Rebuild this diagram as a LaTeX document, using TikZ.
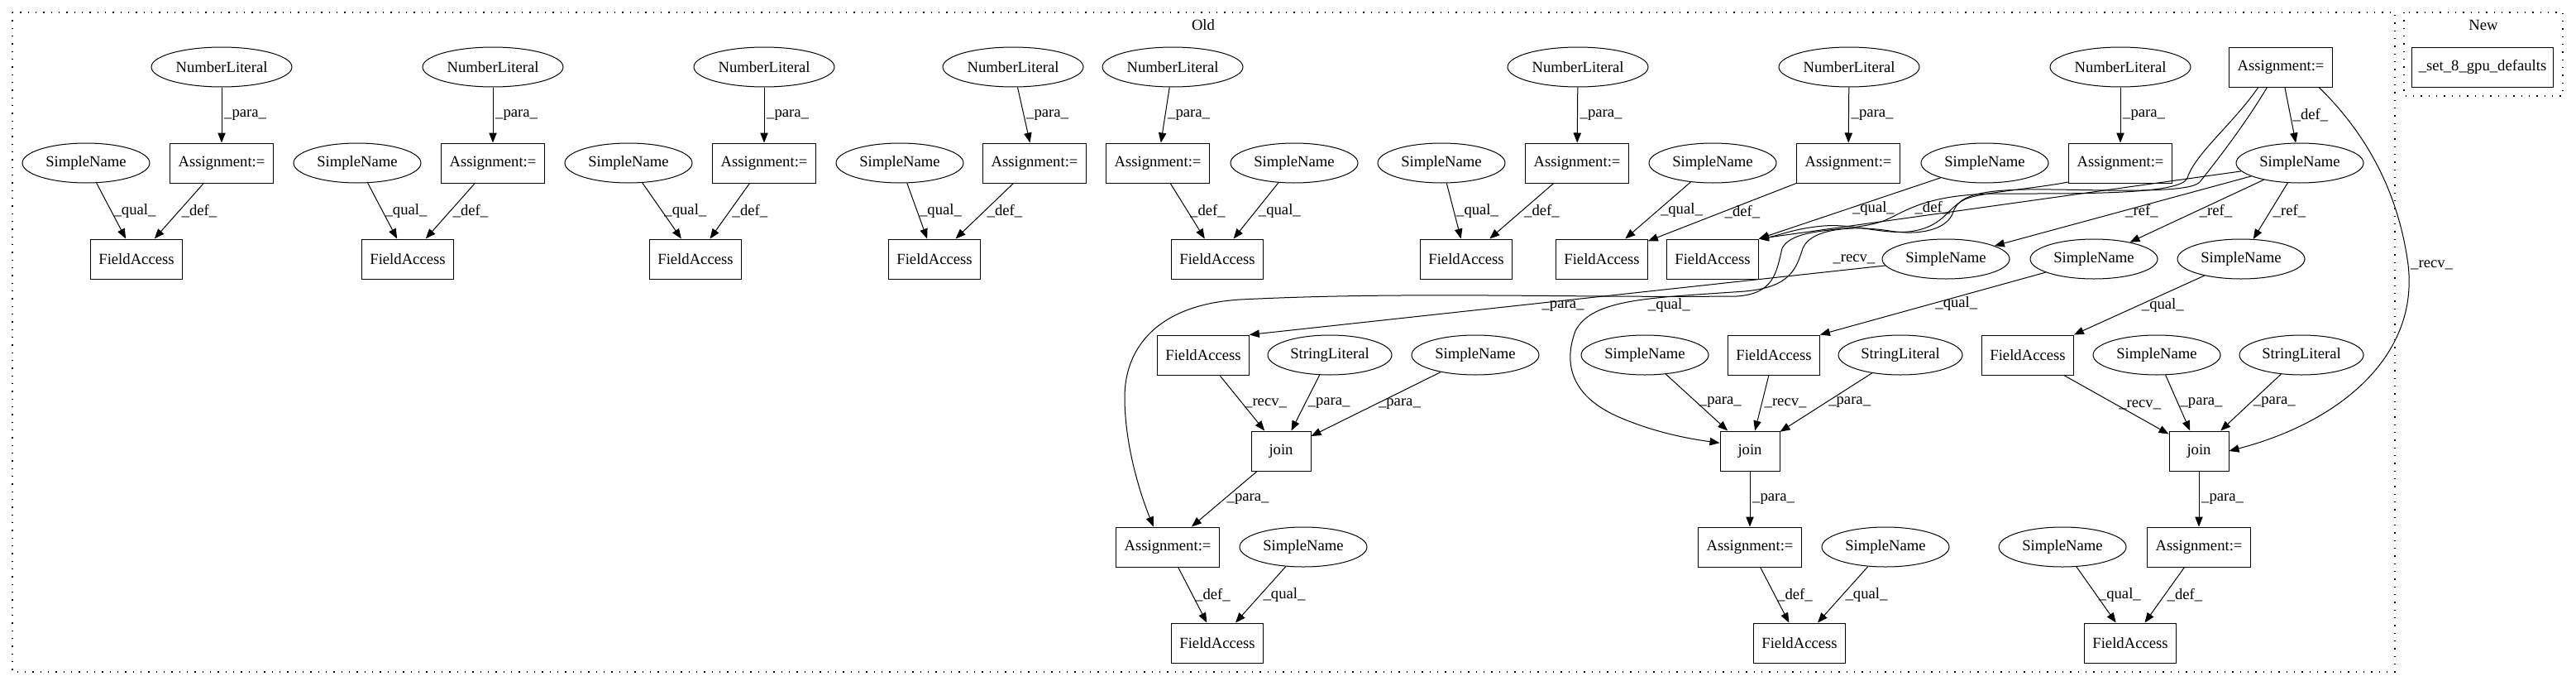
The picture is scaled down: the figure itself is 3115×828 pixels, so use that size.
\documentclass[tikz,border=0pt]{standalone}
\usepackage{fontspec}
\setmainfont{Liberation Serif}
\usetikzlibrary{shapes.geometric,arrows.meta}

\begin{document}
\begin{tikzpicture}[x=0.75pt,y=-0.75pt,>={Triangle[length=9pt,width=7pt]},line width=0.75pt,
	font=\fontsize{14}{16}\selectfont,
	oval/.style={draw,ellipse,inner sep=0pt,minimum height=36pt},
	numlit/.style={oval,minimum width=127.5pt},
	simple/.style={oval,minimum width=115.5pt},
	strlit/.style={oval,minimum width=112.5pt},
	box/.style={draw,rectangle,inner sep=0pt,minimum height=36pt},
	assign/.style={box,minimum width=94pt},
	field/.style={box,minimum width=83pt},
	joinbox/.style={box,minimum width=54pt},
	lbl/.style={right,inner sep=2pt},
	cluster/.style={line width=1pt,dash pattern=on 1pt off 6pt}]
				\useasboundingbox (0,0) rectangle (3115,828);
				%Khung Old, New
				\draw[cluster] (15,15) rectangle (2896,812);
				\node (old) at (1455,30) {Old};
				\draw[cluster] (2907,15) rectangle (3099,116);
				\node (new) at (3003,30) {New};
				\node[box,minimum width=128pt] (gpu) at (3002,81) {\_set\_8\_gpu\_defaults};
				%Nhom 1
				\node[numlit] (nl1) at (268,81) {NumberLiteral};
				\node[assign] (as1) at (268,197) {Assignment:=};
				\node[simple] (sn1) at (104,197) {SimpleName};
				\node[field] (fa1) at (165,313) {FieldAccess};
				\draw[->] (nl1) -- (as1) node[lbl,midway]{\_para\_};
				\draw[->] (sn1) -- (fa1) node[lbl,midway]{\_qual\_};
				\draw[->] (as1) -- (fa1) node[lbl,midway]{\_def\_};
				%Nhom 2
				\node[numlit] (nl2) at (596,81) {NumberLiteral};
				\node[assign] (as2) at (596,197) {Assignment:=};
				\node[simple] (sn2) at (432,197) {SimpleName};
				\node[field] (fa2) at (493,313) {FieldAccess};
				\draw[->] (nl2) -- (as2) node[lbl,midway]{\_para\_};
				\draw[->] (sn2) -- (fa2) node[lbl,midway]{\_qual\_};
				\draw[->] (as2) -- (fa2) node[lbl,midway]{\_def\_};
				%Nhom 3
				\node[numlit] (nl3) at (924,81) {NumberLiteral};
				\node[assign] (as3) at (924,197) {Assignment:=};
				\node[simple] (sn3) at (760,197) {SimpleName};
				\node[field] (fa3) at (841,313) {FieldAccess};
				\draw[->] (nl3) -- (as3) node[lbl,midway]{\_para\_};
				\draw[->] (sn3) -- (fa3) node[lbl,midway]{\_qual\_};
				\draw[->] (as3) -- (fa3) node[lbl,midway]{\_def\_};
				%Nhom 4
				\node[numlit] (nl4) at (1225,81) {NumberLiteral};
				\node[assign] (as4) at (1251,197) {Assignment:=};
				\node[simple] (sn4) at (1088,197) {SimpleName};
				\node[field] (fa4) at (1130,313) {FieldAccess};
				\draw[->] (nl4) -- (as4) node[lbl,midway]{\_para\_};
				\draw[->] (sn4) -- (fa4) node[lbl,midway]{\_qual\_};
				\draw[->] (as4) -- (fa4) node[lbl,midway]{\_def\_};
				%Nhom 5
				\node[numlit] (nl5) at (1418,81) {NumberLiteral};
				\node[assign] (as5) at (1400,197) {Assignment:=};
				\node[simple] (sn5) at (1565,197) {SimpleName};
				\node[field] (fa5) at (1472,313) {FieldAccess};
				\draw[->] (nl5) -- (as5) node[lbl,midway]{\_para\_};
				\draw[->] (as5) -- (fa5) node[lbl,midway]{\_def\_};
				\draw[->] (sn5) -- (fa5) node[lbl,midway]{\_qual\_};
				%Nhom 6
				\node[numlit] (nl6) at (1908,81) {NumberLiteral};
				\node[assign] (as6) at (1907,197) {Assignment:=};
				\node[simple] (sn6) at (1743,197) {SimpleName};
				\node[field] (fa6) at (1773,313) {FieldAccess};
				\draw[->] (nl6) -- (as6) node[lbl,midway]{\_para\_};
				\draw[->] (sn6) -- (fa6) node[lbl,midway]{\_qual\_};
				\draw[->] (as6) -- (fa6) node[lbl,midway]{\_def\_};
				%Nhom 7
				\node[numlit] (nl7) at (2236,81) {NumberLiteral};
				\node[assign] (as7) at (2235,197) {Assignment:=};
				\node[simple] (sn7) at (2071,197) {SimpleName};
				\node[field] (fa7) at (1937,313) {FieldAccess};
				\draw[->] (nl7) -- (as7) node[lbl,midway]{\_para\_};
				\draw[->] (sn7) -- (fa7) node[lbl,midway]{\_qual\_};
				\draw[->] (as7) -- (fa7) node[lbl,midway]{\_def\_};
				%Nhom 8
				\node[numlit] (nl8) at (2564,81) {NumberLiteral};
				\node[assign] (as8) at (2564,197) {Assignment:=};
				\node[simple] (sn8) at (2400,197) {SimpleName};
				\node[field] (fa8) at (2071,313) {FieldAccess};
				\draw[->] (nl8) -- (as8) node[lbl,midway]{\_para\_};
				\draw[->] (sn8) -- (fa8.north east) node[lbl,midway]{\_qual\_};
				%Assignment tren cung
				\node[assign] (astop) at (2758,81) {Assignment:=};
				\node[simple] (snbig) at (2781,197) {SimpleName};
				\node[simple] (snr1) at (2353,313) {SimpleName};
				\node[simple] (snr2) at (2532,313) {SimpleName};
				\node[simple] (snr3) at (2710,313) {SimpleName};
				\draw[->] (astop) -- (snbig) node[lbl,midway]{\_def\_};
				\draw[->] (snbig) -- (snr1) node[lbl,midway]{\_ref\_};
				\draw[->] (snbig) -- (snr2) node[lbl,midway]{\_ref\_};
				\draw[->] (snbig) -- (snr3) node[lbl,midway]{\_ref\_};
				\draw[->] (snbig) -- (fa8.north east);
				%Hang 4
				\node[field] (faj1) at (1455,429) {FieldAccess};
				\node[strlit] (sl1) at (1608,429) {StringLiteral};
				\node[simple] (snj1) at (1784,429) {SimpleName};
				\node[simple] (snj2) at (1989,429) {SimpleName};
				\node[field] (faj2) at (2145,429) {FieldAccess};
				\node[strlit] (sl2) at (2298,429) {StringLiteral};
				\node[field] (faj3) at (2452,429) {FieldAccess};
				\node[simple] (snj3) at (2608,429) {SimpleName};
				\node[strlit] (sl3) at (2783,429) {StringLiteral};
				\draw[->] (snr1) -- (faj1.north east) node[lbl,pos=0.34,below=6pt]{\_qual\_};
				\draw[->] (snr2) -- (faj2.north east) node[lbl,midway]{\_qual\_};
				\draw[->] (snr3) -- (faj3.north east) node[lbl,midway]{\_qual\_};
				%join
				\node[joinbox] (join1) at (1549,545) {join};
				\node[joinbox] (join2) at (2116,545) {join};
				\node[joinbox] (join3) at (2659,545) {join};
				\draw[->] (faj1) -- (join1) node[lbl,midway]{\_recv\_};
				\draw[->] (sl1) -- (join1) node[lbl,midway]{\_para\_};
				\draw[->] (snj1) -- (join1) node[lbl,midway]{\_para\_};
				\draw[->] (snj2) -- (join2) node[lbl,midway]{\_para\_};
				\draw[->] (faj2) -- (join2) node[lbl,midway]{\_recv\_};
				\draw[->] (sl2) -- (join2) node[lbl,midway]{\_para\_};
				\draw[->] (faj3) -- (join3) node[lbl,midway]{\_recv\_};
				\draw[->] (snj3) -- (join3) node[lbl,midway]{\_para\_};
				\draw[->] (sl3) -- (join3) node[lbl,midway]{\_para\_};
				%Assignment duoi
				\node[assign] (asj1) at (1412,661) {Assignment:=};
				\node[simple] (sna1) at (1576,661) {SimpleName};
				\node[assign] (asj2) at (2116,661) {Assignment:=};
				\node[simple] (sna2) at (2280,661) {SimpleName};
				\node[simple] (sna3) at (2494,661) {SimpleName};
				\node[assign] (asj3) at (2659,661) {Assignment:=};
				\draw[->] (join1) -- (asj1) node[lbl,midway]{\_para\_};
				\draw[->] (join2) -- (asj2) node[lbl,midway]{\_para\_};
				\draw[->] (join3) -- (asj3) node[lbl,midway]{\_para\_};
				%FieldAccess duoi cung
				\node[field] (faa1) at (1472,777) {FieldAccess};
				\node[field] (faa2) at (2176,777) {FieldAccess};
				\node[field] (faa3) at (2576,777) {FieldAccess};
				\draw[->] (asj1) -- (faa1) node[lbl,midway]{\_def\_};
				\draw[->] (sna1) -- (faa1) node[lbl,midway]{\_qual\_};
				\draw[->] (asj2) -- (faa2) node[lbl,midway]{\_def\_};
				\draw[->] (sna2) -- (faa2) node[lbl,midway]{\_qual\_};
				\draw[->] (sna3) -- (faa3) node[lbl,midway]{\_qual\_};
				\draw[->] (asj3) -- (faa3) node[lbl,midway]{\_def\_};
				%Duong cong
				\draw[->] (astop.-28) .. controls (2860,160) and (2900,230) .. (2912,320) node[lbl,pos=1]{\_recv\_}
					.. controls (2925,430) and (2830,510) .. (join3.east);
				\draw[->] (as8.200) .. controls (2460,228) and (2400,232) .. (2378,240)
					.. controls (2355,250) and (2352,272) .. (2315,279) node[lbl,pos=0.3,left]{\_def\_}
					.. controls (2280,285) and (2245,270) .. (2205,273)
					.. controls (2170,276) and (2150,285) .. (fa8.north east);
				\draw[->] (astop.222) .. controls (2700,150) and (2655,185) .. (2645,215)
					.. controls (2638,235) and (2520,234) .. (2420,234)
					.. controls (2330,234) and (2305,255) .. (2280,266)
					.. controls (2240,282) and (2170,272) .. (2155,300)
					.. controls (2148,330) and (2145,355) .. (2100,358)
					.. controls (1900,360) and (1700,352) .. (1500,362) node[lbl,pos=0.35,below=2pt]{\_para\_}
					.. controls (1400,368) and (1360,420) .. (1360,480)
					.. controls (1360,540) and (1380,600) .. (asj1.125);
				\draw[->] (astop.236) .. controls (2715,150) and (2680,195) .. (2660,220)
					.. controls (2645,236) and (2520,228) .. (2450,229)
					.. controls (2390,230) and (2368,238) .. (2362,256)
					.. controls (2355,278) and (2320,285) .. (2285,279)
					.. controls (2240,272) and (2190,276) .. (2180,300)
					.. controls (2172,325) and (2165,347) .. (2110,352) node[lbl,pos=0,xshift=25pt,yshift=-10pt]{\_recv\_}
					.. controls (2000,360) and (1925,360) .. (1905,400)
					.. controls (1890,440) and (1900,480) .. (1960,505)
					.. controls (2000,522) and (2040,530) .. (join2.165);
			\end{tikzpicture}
\end{document}
